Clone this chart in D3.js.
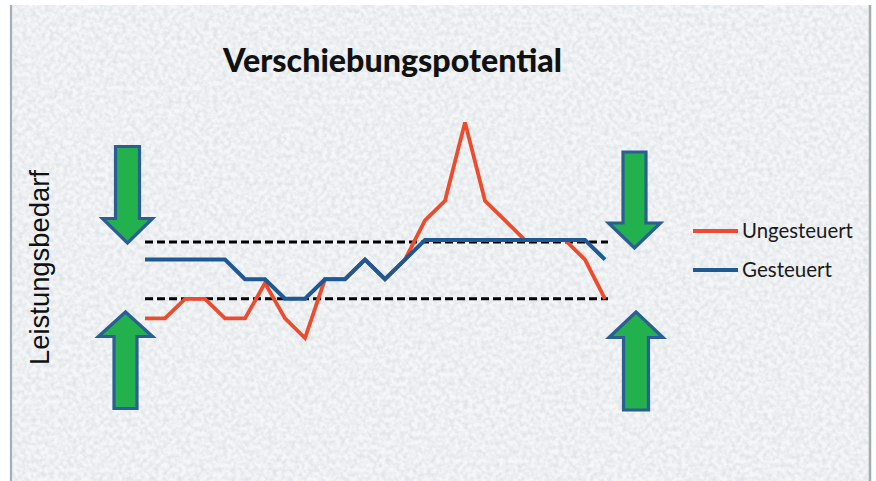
<!DOCTYPE html>
<html>
<head>
<meta charset="utf-8">
<script src="https://cdn.jsdelivr.net/npm/d3@7"></script>
<style>
  html, body { margin: 0; padding: 0; background: #ffffff; }
  svg { display: block; }
</style>
</head>
<body>
<div id="chart"></div>
<script>
// Time slots along the day (24 intervals)
const zeitpunkte = [1, 2, 3, 4, 5, 6, 7, 8, 9, 10, 11, 12, 13, 14, 15, 16, 17, 18, 19, 20, 21, 22, 23, 24];

// Power demand, uncontrolled vs. controlled (relative units)
const ungesteuert = [2, 2, 3, 3, 2, 2, 3.8, 2, 1, 4, 4, 5, 4, 5, 7, 8, 12, 8, 7, 6, 6, 6, 5, 3];
const gesteuert   = [5, 5, 5, 5, 5, 4, 4, 3, 3, 4, 4, 5, 4, 5, 6, 6, 6, 6, 6, 6, 6, 6, 6, 5];

// Band limits (upper / lower target corridor)
const grenzen = [5.9, 3];

const serien = [
  { name: "Ungesteuert", values: ungesteuert, color: "#ef4a2b", width: 3.8 },
  { name: "Gesteuert",   values: gesteuert,   color: "#1f5994", width: 4 }
];

const W = 876, H = 481;
const svg = d3.select("#chart").append("svg")
  .attr("width", W).attr("height", H);

// Textured slide background
const defs = svg.append("defs");
const f = defs.append("filter").attr("id", "grain")
  .attr("x", 0).attr("y", 0).attr("width", "100%").attr("height", "100%");
f.append("feTurbulence").attr("type", "fractalNoise")
  .attr("baseFrequency", 0.22).attr("numOctaves", 2).attr("seed", 7).attr("result", "n");
f.append("feColorMatrix").attr("type", "matrix")
  .attr("values", "0 0 0 0 0.58  0 0 0 0 0.64  0 0 0 0 0.69  1.0 0 0 0 -0.32");

svg.append("rect").attr("x", 11).attr("y", 5).attr("width", 859).attr("height", H - 5)
  .attr("fill", "#f5f6f7");
svg.append("rect").attr("x", 11).attr("y", 5).attr("width", 859).attr("height", H - 5)
  .attr("fill", "#fff").attr("filter", "url(#grain)");
svg.append("line").attr("x1", 11).attr("x2", 11).attr("y1", 5).attr("y2", H)
  .attr("stroke", "#9fb0b9").attr("stroke-width", 2.2);
svg.append("line").attr("x1", 870).attr("x2", 870).attr("y1", 5).attr("y2", H)
  .attr("stroke", "#a3acb1").attr("stroke-width", 2.5);

// Scales
const x = d3.scalePoint().domain(zeitpunkte).range([145, 605]);
const y = d3.scaleLinear().domain([0, 12]).range([357.6, 122.4]);

// Fit a text element to a given width
function fitWidth(sel, target, base) {
  sel.style("font-size", base + "px");
  const w = sel.node().getComputedTextLength();
  sel.style("font-size", (base * target / w).toFixed(2) + "px");
}

// Title
const title = svg.append("text")
  .attr("x", 392.5).attr("y", 72)
  .attr("text-anchor", "middle")
  .style("font-family", "Lato, 'Open Sans', sans-serif")
  .style("font-weight", 900)
  .attr("fill", "#111")
  .text("Verschiebungspotential");
fitWidth(title, 339, 30);

// Y axis label
const ylab = svg.append("text")
  .attr("transform", "translate(49,267.5) rotate(-90)")
  .attr("text-anchor", "middle")
  .style("font-family", "'Liberation Sans', Arial, sans-serif")
  .attr("fill", "#111")
  .text("Leistungsbedarf");
fitWidth(ylab, 195, 22);

// Corridor limits (dashed)
svg.append("g").selectAll("line").data(grenzen).join("line")
  .attr("x1", x(zeitpunkte[0])).attr("x2", x(zeitpunkte[zeitpunkte.length - 1]) + 3)
  .attr("y1", d => y(d)).attr("y2", d => y(d))
  .attr("stroke", "#000").attr("stroke-width", 3)
  .attr("stroke-dasharray", "8,4");

// Series lines
const line = d3.line()
  .x((d, i) => x(zeitpunkte[i]))
  .y(d => y(d));

svg.append("g").selectAll("path").data(serien).join("path")
  .attr("d", d => line(d.values))
  .attr("fill", "none")
  .attr("stroke", d => d.color)
  .attr("stroke-width", d => d.width)
  .attr("stroke-linejoin", "miter")
  .attr("stroke-linecap", "butt");

// Block arrows pointing at the corridor
function arrowPath(cx, tail, base, tip, shw, hhw) {
  return `M${cx - shw},${tail} L${cx + shw},${tail} L${cx + shw},${base} ` +
         `L${cx + hhw},${base} L${cx},${tip} L${cx - hhw},${base} L${cx - shw},${base} Z`;
}
const arrows = [
  { cx: 127.5, tail: 146.5, base: 218.5, tip: 243, shw: 12,   hhw: 25 },
  { cx: 125.5, tail: 408.5, base: 336.5, tip: 312, shw: 11.5, hhw: 27 },
  { cx: 634.5, tail: 152,   base: 223,   tip: 248, shw: 11.5, hhw: 26 },
  { cx: 636,   tail: 410,   base: 337.5, tip: 312, shw: 12.5, hhw: 27 }
];
svg.append("g").selectAll("path").data(arrows).join("path")
  .attr("d", a => arrowPath(a.cx, a.tail, a.base, a.tip, a.shw, a.hhw))
  .attr("fill", "#22b14c")
  .attr("stroke", "#2b5f93")
  .attr("stroke-width", 3.2)
  .attr("stroke-linejoin", "miter");

// Legend
const legY = [231, 270];
const lg = svg.append("g").selectAll("g").data(serien).join("g")
  .attr("transform", (d, i) => `translate(0,${legY[i]})`);
lg.append("line").attr("x1", 693).attr("x2", 738).attr("y1", 0).attr("y2", 0)
  .attr("stroke", d => d.color).attr("stroke-width", 4);
lg.append("text").attr("x", 742).attr("y", 6.5)
  .style("font-family", "Lato, 'Open Sans', sans-serif")
  .attr("fill", "#1a1a1a")
  .text(d => d.name)
  .each(function(d, i) { fitWidth(d3.select(this), i === 0 ? 111 : 90, 17); });
</script>
</body>
</html>
